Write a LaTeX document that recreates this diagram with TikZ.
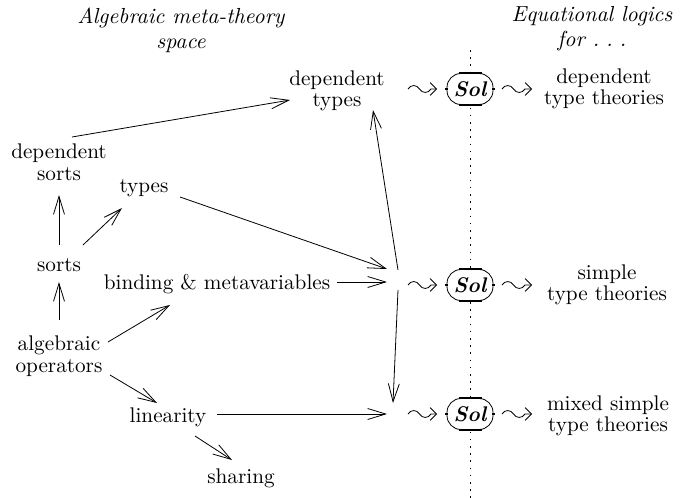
\documentclass[tikz,border=0pt]{standalone}
\usetikzlibrary{arrows.meta,calc}
\begin{document}
\begin{tikzpicture}[x=0.5pt,y=-0.5pt,
  lbl/.style={align=center,font=\fontsize{10.6}{10.8}\selectfont,inner sep=0pt},
  head/.style={align=center,font=\fontsize{10.9}{12.5}\selectfont\itshape,inner sep=0pt},
  arr/.style={-{Straight Barb[length=9pt,width=5.5pt]}},
  squig/.style={-{Straight Barb[length=3.2pt,width=6.4pt]},
    to path={(\tikztostart)
      .. controls ($(\tikztostart)+(3,-4.6)$) and ($(\tikztostart)+(8.5,-4.6)$) .. ($(\tikztostart)+(11.5,0)$)
      .. controls ($(\tikztostart)+(14.5,4.6)$) and ($(\tikztostart)+(20,4.6)$) .. ($(\tikztostart)+(23,0)$)
      -- (\tikztotarget) \tikztonodes}},
  solbox/.style={draw,fill=white,rounded corners=7pt,minimum width=23pt,minimum height=15.5pt,inner sep=0pt,font=\fontsize{10.6}{12}\selectfont\bfseries\itshape},
  guide/.style={dash pattern=on 0.8pt off 2.8pt}]
\useasboundingbox (0,0) rectangle (691,498);

% column headings
\node[head] (hdL) at (181,30) {Algebraic meta-theory\\space};
\node[head] (hdR) at (592,29) {Equational logics\\for .\hspace{3.4pt}.\hspace{3.4pt}.};

% separator between the two columns
\coordinate (gtop) at (470,50);
\coordinate (gbot) at (470,498);
\draw[guide] (gtop) -- (gbot);

% meta-theory nodes
\node[lbl] (dt) at (337,91)  {dependent\\types};
\node[lbl] (ds) at (59,162)  {dependent\\sorts};
\node[lbl] (ty) at (144,188) {types};
\node[lbl] (so) at (59,265)  {sorts};
\node[lbl] (bm) at (217,284) {binding \& metavariables};
\node[lbl] (ao) at (59,356)  {algebraic\\operators};
\node[lbl] (li) at (168,417) {linearity};
\node[lbl] (sh) at (241,478) {sharing};
\coordinate (h2) at (398,283);
\coordinate (h3) at (396,414);

% Sol boxes
\node[solbox] (s1) at (470,89)  {Sol};
\node[solbox] (s2) at (470,285) {Sol};
\node[solbox] (s3) at (470,414) {Sol};
\foreach \s in {s1,s2,s3}{
  \draw[line width=1.3pt] ($(\s.north)+(-11.5,0)$) -- ($(\s.north)+(11.5,0)$);
  \draw[line width=1.3pt] ($(\s.south)+(-11.5,0)$) -- ($(\s.south)+(11.5,0)$);
  \fill ($(\s.west)+(-1.4,-1.4)$) rectangle ($(\s.west)+(1.4,1.4)$);
  \fill ($(\s.east)+(-1.4,-1.4)$) rectangle ($(\s.east)+(1.4,1.4)$);
}

% resulting logics
\node[lbl] (r1) at (604,89)  {dependent\\type theories};
\node[lbl] (r2) at (607,285) {simple\\type theories};
\node[lbl] (r3) at (608,416) {mixed simple\\type theories};

% extensions of the meta-theory
\draw[arr] ($(ds)+(13,-25)$) -- ($(dt)+(-47,9)$);
\draw[arr] ($(so)+(0,-20)$) -- ($(ds)+(0,33)$);
\draw[arr] ($(so)+(24,-20)$) -- ($(ty)+(-22,20)$);
\draw[arr] ($(ty)+(36,9)$) -- ($(h2)+(-11,-14)$);
\draw[arr] ($(bm)+(120,-2)$) -- ($(h2)+(-11,-1)$);
\draw[arr] ($(ao)+(0,-36)$) -- ($(so)+(0,17)$);
\draw[arr] ($(ao)+(49,-14)$) -- ($(bm)+(-47,21)$);
\draw[arr] ($(ao)+(51,19)$) -- ($(li)+(-11,-14)$);
\draw[arr] ($(li)+(49,-3)$) -- ($(h3)+(-9,0)$);
\draw[arr] ($(li)+(27,19)$) -- ($(sh)+(-9,-18)$);
\draw[arr] ($(h2)+(0,-13)$) -- ($(dt)+(36,19)$);
\draw[arr] ($(h2)+(0,7)$) -- ($(h3)+(-3,-11)$);

% squiggly arrows through Sol
\draw[squig] ($(dt)+(71,-2)$) to ($(s1)+(-33,0)$);
\draw[squig] ($(s1)+(32,0)$) to ($(r1)+(-72,0)$);
\draw[squig] ($(h2)+(10,2)$) to ($(s2)+(-33,0)$);
\draw[squig] ($(s2)+(32,0)$) to ($(r2)+(-75,0)$);
\draw[squig] ($(h3)+(12,0)$) to ($(s3)+(-33,0)$);
\draw[squig] ($(s3)+(32,0)$) to ($(r3)+(-76,-2)$);
\end{tikzpicture}
\end{document}
